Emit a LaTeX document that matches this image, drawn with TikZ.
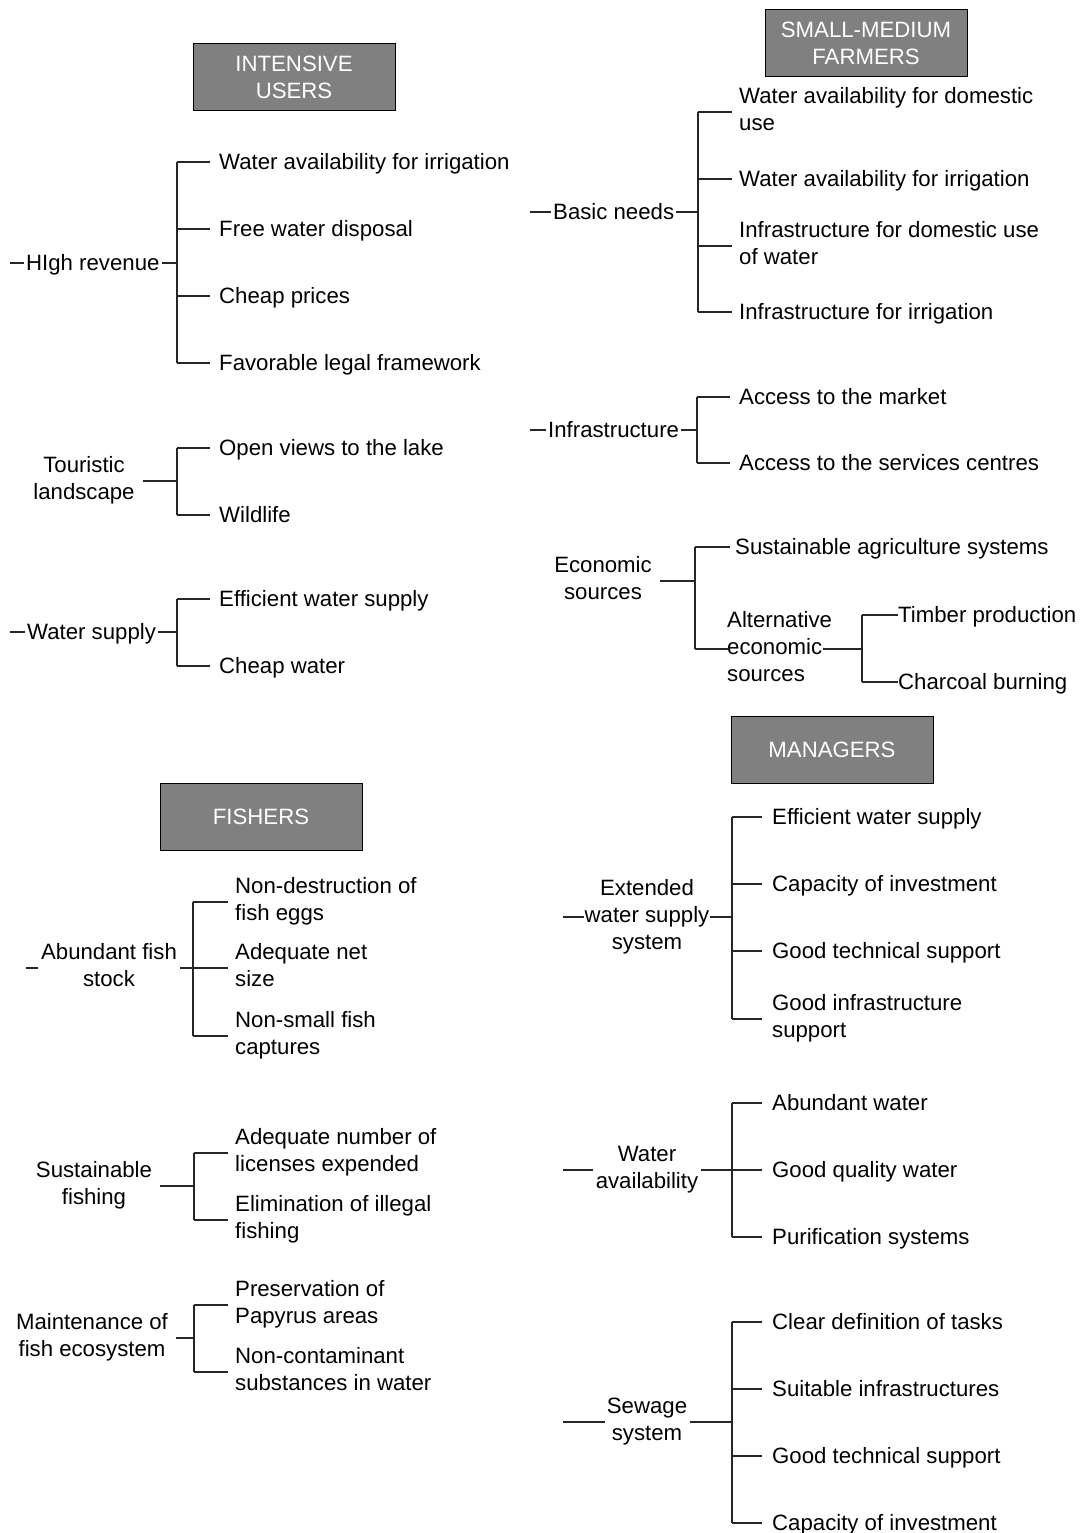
\documentclass[tikz,border=0pt]{standalone}
\usepackage{fontspec}
\setmainfont{Liberation Sans}
% strut that puts a node's centre at the visual middle of a text line
\newcommand\lblstrut{\vrule width 0pt height 20.9pt depth 6.1pt\relax}
\begin{document}
\begin{tikzpicture}[x=1pt,y=-1pt,
  lbl/.style={inner sep=0pt, font=\fontsize{22.2}{27}\selectfont,
    execute at begin node=\lblstrut, execute at end node=\lblstrut},
  lft/.style={lbl, anchor=west, align=left},
  ctr/.style={lbl, align=center},
  ln/.style={line width=1.3pt, black!85},
  hdr/.style={draw=black, line width=1pt, fill=black!50, text=white,
    minimum width=202pt, minimum height=67pt, align=center, inner sep=0pt,
    font=\fontsize{22.2}{27}\selectfont}]
\useasboundingbox (0,0) rectangle (1080,1533);

% ---------------- INTENSIVE USERS ----------------
\node[hdr] (iu) at (294,77.5) {INTENSIVE\\USERS};

\node[lft] (hr) at (26,263) {HIgh revenue};
\coordinate (hrA) at (10,263);
\coordinate (hrJ) at (177,263);
\node[lft] (hr1) at (219,162) {Water availability for irrigation};
\node[lft] (hr2) at (219,229) {Free water disposal};
\node[lft] (hr3) at (219,296) {Cheap prices};
\node[lft] (hr4) at (219,363) {Favorable legal framework};
\draw[ln] (hrA) -- ([xshift=-2pt]hr.west);
\draw[ln] ([xshift=2pt]hr.east) -- (hrJ);
\draw[ln] (hrJ |- hr1.west) -- (hrJ |- hr4.west);
\foreach \c in {hr1,hr2,hr3,hr4} \draw[ln] (hrJ |- \c.west) -- ([xshift=-9pt]\c.west);

\node[ctr] (tl) at (84,481) {Touristic\\landscape};
\coordinate (tlJ) at (177,481);
\node[lft] (tl1) at (219,448) {Open views to the lake};
\node[lft] (tl2) at (219,515) {Wildlife};
\draw[ln] ([xshift=8pt]tl.east) -- (tlJ);
\draw[ln] (tlJ |- tl1.west) -- (tlJ |- tl2.west);
\foreach \c in {tl1,tl2} \draw[ln] (tlJ |- \c.west) -- ([xshift=-9pt]\c.west);

\node[lft] (ws) at (27,632) {Water supply};
\coordinate (wsA) at (10,632);
\coordinate (wsJ) at (177,632);
\node[lft] (ws1) at (219,599) {Efficient water supply};
\node[lft] (ws2) at (219,666) {Cheap water};
\draw[ln] (wsA) -- ([xshift=-2pt]ws.west);
\draw[ln] ([xshift=2pt]ws.east) -- (wsJ);
\draw[ln] (wsJ |- ws1.west) -- (wsJ |- ws2.west);
\foreach \c in {ws1,ws2} \draw[ln] (wsJ |- \c.west) -- ([xshift=-9pt]\c.west);

% ---------------- SMALL-MEDIUM FARMERS ----------------
\node[hdr] (smf) at (866,43) {SMALL-MEDIUM\\FARMERS};

\node[lft] (bn) at (553,212) {Basic needs};
\coordinate (bnA) at (530,212);
\coordinate (bnJ) at (698,212);
\node[lft] (bn1) at (739,112) {Water availability for domestic\\use};
\node[lft] (bn2) at (739,179) {Water availability for irrigation};
\node[lft] (bn3) at (739,246) {Infrastructure for domestic use\\of water};
\node[lft] (bn4) at (739,312) {Infrastructure for irrigation};
\draw[ln] (bnA) -- ([xshift=-2pt]bn.west);
\draw[ln] ([xshift=2pt]bn.east) -- (bnJ);
\draw[ln] (bnJ |- bn1.west) -- (bnJ |- bn4.west);
\foreach \c in {bn1,bn2,bn3,bn4} \draw[ln] (bnJ |- \c.west) -- ([xshift=-7pt]\c.west);

\node[lft] (inf) at (548,430) {Infrastructure};
\coordinate (infA) at (530,430);
\coordinate (infJ) at (697,430);
\node[lft] (inf1) at (739,397) {Access to the market};
\node[lft] (inf2) at (739,463) {Access to the services centres};
\draw[ln] (infA) -- ([xshift=-2pt]inf.west);
\draw[ln] ([xshift=2pt]inf.east) -- (infJ);
\draw[ln] (infJ |- inf1.west) -- (infJ |- inf2.west);
\foreach \c in {inf1,inf2} \draw[ln] (infJ |- \c.west) -- ([xshift=-9pt]\c.west);

\node[ctr] (es) at (603,581) {Economic\\sources};
\coordinate (esJ) at (695,581);
\node[lft] (es1) at (735,547) {Sustainable agriculture systems};
\node[lft] (aes) at (727,649) {Alternative\\economic\\sources};
\draw[ln] ([xshift=8pt]es.east) -- (esJ);
\draw[ln] (esJ |- es1.west) -- (esJ |- aes.west);
\draw[ln] (esJ |- es1.west) -- ([xshift=-5pt]es1.west);
\draw[ln] (esJ |- aes.west) -- ([xshift=2pt]aes.west);
\coordinate (aesJ) at (862,649);
\node[lft] (aes1) at (898,615) {Timber production};
\node[lft] (aes2) at (898,682) {Charcoal burning};
\draw[ln] ([xshift=96pt]aes.west) -- (aesJ);
\draw[ln] (aesJ |- aes1.west) -- (aesJ |- aes2.west);
\foreach \c in {aes1,aes2} \draw[ln] (aesJ |- \c.west) -- (\c.west);

% ---------------- MANAGERS ----------------
\node[hdr] (mg) at (832,749.5) {MANAGERS};

\node[ctr] (ews) at (647,917) {Extended\\water supply\\system};
\coordinate (ewsA) at (563,917);
\coordinate (ewsJ) at (732,917);
\node[lft] (ews1) at (772,817) {Efficient water supply};
\node[lft] (ews2) at (772,884) {Capacity of investment};
\node[lft] (ews3) at (772,951) {Good technical support};
\node[lft] (ews4) at (772,1019) {Good infrastructure\\support};
\draw[ln] (ewsA) -- (ews.west);
\draw[ln] (ews.east) -- (ewsJ);
\draw[ln] (ewsJ |- ews1.west) -- (ewsJ |- ews4.west);
\foreach \c in {ews1,ews2,ews3,ews4} \draw[ln] (ewsJ |- \c.west) -- ([xshift=-10pt]\c.west);

\node[ctr] (wa) at (647,1170) {Water\\availability};
\coordinate (waA) at (563,1170);
\coordinate (waJ) at (732,1170);
\node[lft] (wa1) at (772,1103) {Abundant water};
\node[lft] (wa2) at (772,1170) {Good quality water};
\node[lft] (wa3) at (772,1237) {Purification systems};
\draw[ln] (waA) -- ([xshift=-3pt]wa.west);
\draw[ln] ([xshift=3pt]wa.east) -- (waJ);
\draw[ln] (waJ |- wa1.west) -- (waJ |- wa3.west);
\foreach \c in {wa1,wa2,wa3} \draw[ln] (waJ |- \c.west) -- ([xshift=-10pt]\c.west);

\node[ctr] (ss) at (647,1422) {Sewage\\system};
\coordinate (ssA) at (563,1422);
\coordinate (ssJ) at (732,1422);
\node[lft] (ss1) at (772,1322) {Clear definition of tasks};
\node[lft] (ss2) at (772,1389) {Suitable infrastructures};
\node[lft] (ss3) at (772,1456) {Good technical support};
\node[lft] (ss4) at (772,1523) {Capacity of investment};
\draw[ln] (ssA) -- ([xshift=-2pt]ss.west);
\draw[ln] ([xshift=3pt]ss.east) -- (ssJ);
\draw[ln] (ssJ |- ss1.west) -- (ssJ |- ss4.west);
\foreach \c in {ss1,ss2,ss3,ss4} \draw[ln] (ssJ |- \c.west) -- ([xshift=-10pt]\c.west);

% ---------------- FISHERS ----------------
\node[hdr] (fi) at (261,817) {FISHERS};

\node[ctr] (afs) at (109,968) {Abundant fish\\stock};
\coordinate (afsA) at (26,968);
\coordinate (afsJ) at (193,968);
\node[lft] (afs1) at (235,902) {Non-destruction of\\fish eggs};
\node[lft] (afs2) at (235,968) {Adequate net\\size};
\node[lft] (afs3) at (235,1036) {Non-small fish\\captures};
\draw[ln] (afsA) -- ([xshift=-3pt]afs.west);
\draw[ln] ([xshift=3pt]afs.east) -- (afsJ);
\draw[ln] (afsJ |- afs1.west) -- (afsJ |- afs3.west);
\foreach \c in {afs1,afs2,afs3} \draw[ln] (afsJ |- \c.west) -- ([xshift=-7pt]\c.west);

\node[ctr] (sf) at (94,1186) {Sustainable\\fishing};
\coordinate (sfJ) at (194,1186);
\node[lft] (sf1) at (235,1153) {Adequate number of\\licenses expended};
\node[lft] (sf2) at (235,1220) {Elimination of illegal\\fishing};
\draw[ln] ([xshift=8pt]sf.east) -- (sfJ);
\draw[ln] (sfJ |- sf1.west) -- (sfJ |- sf2.west);
\foreach \c in {sf1,sf2} \draw[ln] (sfJ |- \c.west) -- ([xshift=-7pt]\c.west);

\node[ctr] (mfe) at (92,1338) {Maintenance of\\fish ecosystem};
\coordinate (mfeJ) at (194,1338);
\node[lft] (mfe1) at (235,1305) {Preservation of\\Papyrus areas};
\node[lft] (mfe2) at (235,1372) {Non-contaminant\\substances in water};
\draw[ln] ([xshift=8pt]mfe.east) -- (mfeJ);
\draw[ln] (mfeJ |- mfe1.west) -- (mfeJ |- mfe2.west);
\foreach \c in {mfe1,mfe2} \draw[ln] (mfeJ |- \c.west) -- ([xshift=-7pt]\c.west);
\end{tikzpicture}
\end{document}
